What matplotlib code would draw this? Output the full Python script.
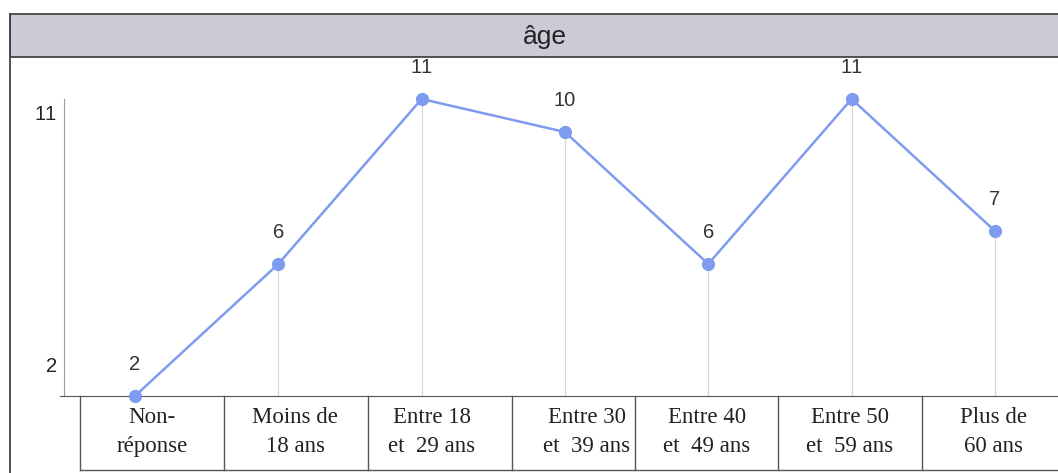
import matplotlib.pyplot as plt
from matplotlib.patches import Rectangle

categories = ["Non-\nréponse", "Moins de\n18 ans", "Entre 18\net  29 ans", "Entre 30\net  39 ans",
              "Entre 40\net  49 ans", "Entre 50\net  59 ans", "Plus de\n60 ans"]
counts = [2, 6, 11, 10, 6, 11, 7]
ytick_values = [2, 11]

W, H = 1058, 473
LINE = '#7f9bef'

plt.rcParams['text.kerning_factor'] = 6  # no tight "11"

fig = plt.figure(figsize=(W / 100, H / 100), dpi=100)


def px_box(x0, y0, x1, y1):
    # pixel box (top-left origin) -> figure fraction
    return [x0 / W, 1 - y1 / H, (x1 - x0) / W, (y1 - y0) / H]


# frame, title band and category table drawn in pixel space
deco = fig.add_axes([0, 0, 1, 1])
deco.set_xlim(0, W)
deco.set_ylim(H, 0)
deco.axis('off')
deco.add_patch(Rectangle((10, 14), W - 8, 43, facecolor='#cacbd6', edgecolor='#444444', lw=1.3))
deco.plot([10, 10], [14, H], color='#444444', lw=1.3)
deco.text(545, 37, 'âge', ha='center', va='center', fontsize=19, family='Liberation Sans', color='#222222')

edges = [80, 224, 368, 512, 635, 778, 922, W + 2]
label_x = [152, 295, 432, 587, 707, 850, 993]
deco.plot([80, W], [470, 470], color='#555555', lw=1)
for e in edges:
    deco.plot([e, e], [396, 470], color='#555555', lw=1)
for cx, lab in zip(label_x, categories):
    deco.text(cx, 432, lab, ha='center', va='center', fontsize=16.5,
              family='Liberation Serif', color='#222222', linespacing=1.45)

# line chart
ax = fig.add_axes(px_box(64, 57, W, 396))
ax.patch.set_alpha(0)
x = list(range(len(counts)))
ax.set_xlim(-0.495, 6.44)
ax.set_ylim(2, 2 + 339 / 33)

ax.vlines(x, 2, counts, color='#d4d4d4', lw=0.8, zorder=1)
ax.plot(x, counts, color=LINE, lw=1.8, marker='o', ms=8.5, clip_on=False, zorder=3)
for xi, v in zip(x, counts):
    ax.annotate(str(v), (xi, v), xytext=(0, 23), textcoords='offset points', ha='center',
                va='center', fontsize=14.5, family='Liberation Sans', color='#333333')

for s in ['top', 'right']:
    ax.spines[s].set_visible(False)
ax.spines['left'].set_bounds(2, 11)
ax.spines['left'].set_color('#999999')
ax.spines['bottom'].set_color('#555555')
ax.spines['bottom'].set_bounds(-0.495 - 4 / 143.3, 6.44)
ax.set_xticks([])
ax.set_yticks([])
offsets = {11: -11, 2: 21}
for t in ytick_values:
    ax.annotate(str(t), (0, t), xycoords=('axes fraction', 'data'), xytext=(-5, offsets[t]),
                textcoords='offset points', ha='right', va='center', fontsize=14.5,
                family='Liberation Sans', color='#222222', annotation_clip=False)

fig.savefig('out.png', dpi=100)
